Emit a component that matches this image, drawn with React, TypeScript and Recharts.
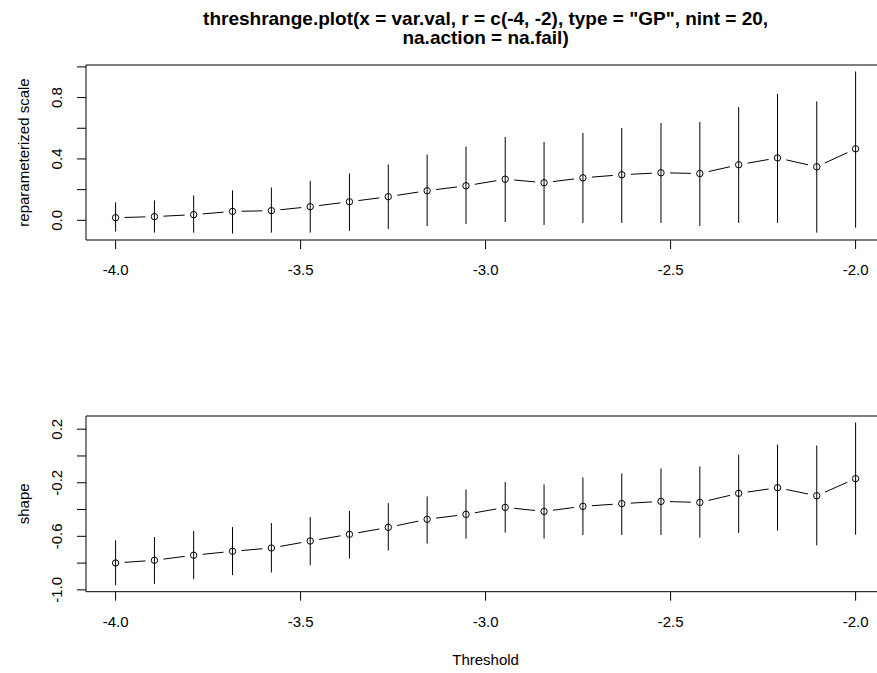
import React from 'react';
import { LineChart, Line, XAxis, YAxis, ErrorBar, ReferenceArea } from 'recharts';

// threshold grid (nint = 20 over r = c(-4, -2))
const thresholds = [
  -4.0, -3.895, -3.789, -3.684, -3.579, -3.474, -3.368, -3.263, -3.158, -3.053,
  -2.947, -2.842, -2.737, -2.632, -2.526, -2.421, -2.316, -2.211, -2.105, -2.0,
];

// reparameterized scale: estimate and CI
const scaleMid = [
  0.017, 0.024, 0.037, 0.058, 0.063, 0.089, 0.121, 0.154, 0.193, 0.225,
  0.268, 0.245, 0.277, 0.297, 0.31, 0.305, 0.362, 0.407, 0.349, 0.466,
];
const scaleLow = [
  -0.073, -0.08, -0.08, -0.086, -0.08, -0.08, -0.069, -0.056, -0.037, -0.024,
  -0.011, -0.03, -0.017, -0.017, -0.017, -0.037, -0.017, -0.017, -0.08, -0.048,
];
const scaleHigh = [
  0.117, 0.13, 0.162, 0.195, 0.214, 0.258, 0.305, 0.364, 0.429, 0.481,
  0.543, 0.511, 0.569, 0.602, 0.634, 0.641, 0.738, 0.823, 0.775, 0.97,
];

// shape: estimate and CI
const shapeMid = [
  -0.799, -0.779, -0.741, -0.712, -0.687, -0.635, -0.585, -0.533, -0.473, -0.436,
  -0.384, -0.414, -0.376, -0.356, -0.339, -0.347, -0.279, -0.237, -0.297, -0.169,
];
const shapeLow = [
  -0.965, -0.955, -0.92, -0.89, -0.87, -0.816, -0.766, -0.706, -0.654, -0.617,
  -0.572, -0.617, -0.59, -0.59, -0.59, -0.61, -0.575, -0.557, -0.668, -0.588,
];
const shapeHigh = [
  -0.63, -0.605, -0.56, -0.531, -0.501, -0.456, -0.411, -0.352, -0.302, -0.25,
  -0.195, -0.212, -0.16, -0.13, -0.093, -0.078, 0.01, 0.085, 0.078, 0.25,
];

const xTicks = [-4, -3.5, -3, -2.5, -2];
const scaleTicks = [0, 0.2, 0.4, 0.6, 0.8, 1.0];
const scaleLabeled = [0, 0.4, 0.8];
const shapeTicks = [-1.0, -0.8, -0.6, -0.4, -0.2, 0, 0.2];
const shapeLabeled = [-1.0, -0.6, -0.2, 0.2];

const FONT = '"Liberation Sans", Arial, sans-serif';
const GAP = 9;

type Row = { x: number; y: number; err: [number, number] };

function buildRows(mid: number[], low: number[], high: number[]): Row[] {
  return thresholds.map((x, i) => ({ x, y: mid[i], err: [mid[i] - low[i], high[i] - mid[i]] }));
}

// R's default 4% axis extension
function rDomain(low: number[], high: number[]): [number, number] {
  const lo = Math.min(...low);
  const hi = Math.max(...high);
  const pad = (hi - lo) * 0.04;
  return [lo - pad, hi + pad];
}

const xDomain = rDomain(thresholds, thresholds);

// open circle + line segment to next point with gaps (type = "b")
function GapDot(props: any) {
  const { cx, cy, index, points } = props;
  const next = points && points[index + 1];
  let seg = null;
  if (next) {
    const dx = next.x - cx;
    const dy = next.y - cy;
    const len = Math.hypot(dx, dy);
    if (len > 2 * GAP) {
      const ux = dx / len;
      const uy = dy / len;
      seg = (
        <line
          x1={cx + ux * GAP} y1={cy + uy * GAP}
          x2={next.x - ux * GAP} y2={next.y - uy * GAP}
          stroke="#000" strokeWidth={1}
        />
      );
    }
  }
  return (
    <g>
      {seg}
      <circle cx={cx} cy={cy} r={3.2} fill="none" stroke="#000" strokeWidth={1} />
    </g>
  );
}

function XTick(props: any) {
  const { x, y, payload } = props;
  return (
    <text x={x} y={y + 24} textAnchor="middle" fontSize={15} fontFamily={FONT} fill="#000">
      {payload.value.toFixed(1)}
    </text>
  );
}

function makeYTick(labeled: number[]) {
  return (props: any) => {
    const { x, y, payload } = props;
    const v = payload.value;
    if (!labeled.some((l) => Math.abs(l - v) < 1e-9)) return <g />;
    const bx = x - 13;
    return (
      <text
        x={bx} y={y} transform={`rotate(-90, ${bx}, ${y})`}
        textAnchor="middle" fontSize={15} fontFamily={FONT} fill="#000"
      >
        {v.toFixed(1)}
      </text>
    );
  };
}

type PanelProps = {
  data: Row[];
  yDomain: [number, number];
  ticks: number[];
  labeled: number[];
  height: number;
  top: number;
  bottom: number;
};

function Panel({ data, yDomain, ticks, labeled, height, top, bottom }: PanelProps) {
  return (
    <LineChart
      width={900}
      height={height}
      data={data}
      margin={{ top, right: 14.8, bottom, left: 0 }}
    >
      <ReferenceArea
        x1={xDomain[0]} x2={xDomain[1]} y1={yDomain[0]} y2={yDomain[1]}
        fill="none" stroke="#000" strokeWidth={1} ifOverflow="visible"
      />
      <XAxis
        type="number" dataKey="x" domain={xDomain} ticks={xTicks} allowDataOverflow
        axisLine={false} tickSize={9} tickLine={{ stroke: '#000' }} tick={XTick} height={30}
      />
      <YAxis
        type="number" domain={yDomain} ticks={ticks} allowDataOverflow width={86}
        axisLine={false} tickSize={9} tickLine={{ stroke: '#000' }} tick={makeYTick(labeled)}
      />
      <Line
        dataKey="y"
        stroke="none"
        isAnimationActive={false}
        dot={(p: any) => {
          const { key, ...rest } = p;
          return <GapDot key={key} {...rest} />;
        }}
        activeDot={false}
      >
        <ErrorBar dataKey="err" direction="y" width={0} stroke="#000" strokeWidth={1} isAnimationActive={false} />
      </Line>
    </LineChart>
  );
}

export default function App() {
  const scaleRows = buildRows(scaleMid, scaleLow, scaleHigh);
  const shapeRows = buildRows(shapeMid, shapeLow, shapeHigh);
  const midX = 485.6;
  return (
    <div style={{ position: 'absolute', left: 0, top: 0, width: 877, height: 673, overflow: 'hidden', background: '#fff' }}>
      <div style={{ position: 'absolute', left: 0, top: 0 }}>
        <Panel
          data={scaleRows} yDomain={rDomain(scaleLow, scaleHigh)} ticks={scaleTicks}
          labeled={scaleLabeled} height={336} top={65} bottom={66}
        />
      </div>
      <div style={{ position: 'absolute', left: 0, top: 336 }}>
        <Panel
          data={shapeRows} yDomain={rDomain(shapeLow, shapeHigh)} ticks={shapeTicks}
          labeled={shapeLabeled} height={337} top={80} bottom={51.3}
        />
      </div>
      <svg width={877} height={673} style={{ position: 'absolute', left: 0, top: 0, pointerEvents: 'none' }}>
        <g fontFamily={FONT} fill="#000">
          <text textAnchor="middle" fontSize={19} fontWeight="bold">
            <tspan x={midX} y={25}>
              threshrange.plot(x = var.val, r = c(-4, -2), type = "GP", nint = 20,
            </tspan>
            <tspan x={midX} y={43.5}>
              na.action = na.fail)
            </tspan>
          </text>
          <text x={29} y={152.5} transform="rotate(-90, 29, 152.5)" textAnchor="middle" fontSize={15}>
            reparameterized scale
          </text>
          <text x={29} y={503.8} transform="rotate(-90, 29, 503.8)" textAnchor="middle" fontSize={15}>
            shape
          </text>
          <text x={midX} y={665} textAnchor="middle" fontSize={15}>
            Threshold
          </text>
        </g>
      </svg>
    </div>
  );
}
